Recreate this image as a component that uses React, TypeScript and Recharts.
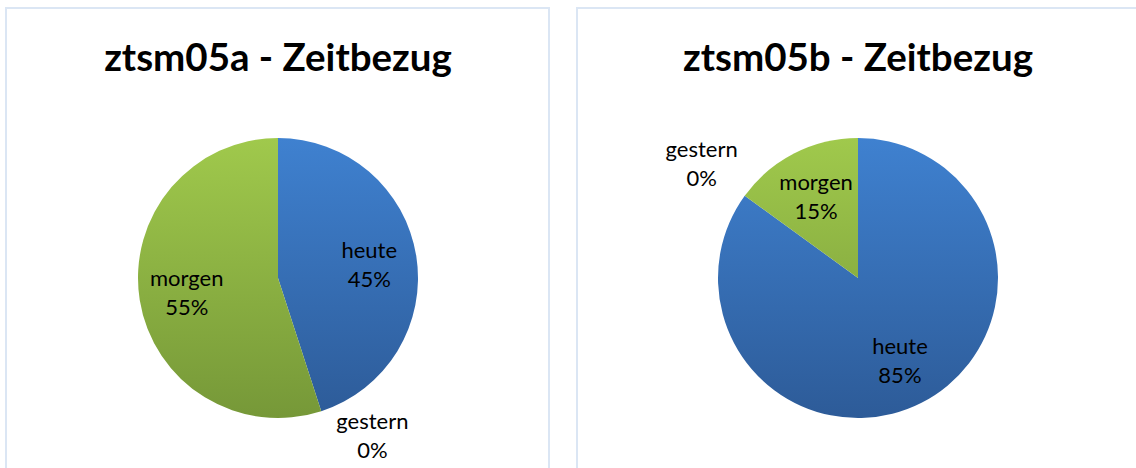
import { PieChart, Pie, Cell } from 'recharts';

const CATEGORIES = ['heute', 'gestern', 'morgen'];
const VALUES_A = [45, 0, 55];
const VALUES_B = [85, 0, 15];
const TITLES = ['ztsm05a - Zeitbezug', 'ztsm05b - Zeitbezug'];

const FONT = 'Lato, Calibri, "Open Sans", sans-serif';
const RADIUS = 140;
const CY = 278;

const RAD = Math.PI / 180;

// labels: inside for real slices, outside for the empty one
function renderLabel(props: any) {
  const { cx, cy, midAngle, outerRadius, name, percent, value } = props;
  const pct = `${Math.round(percent * 100)}%`;
  const cos = Math.cos(-midAngle * RAD);
  const sin = Math.sin(-midAngle * RAD);
  if (value > 0) {
    const r = outerRadius * 0.66;
    const x = cx + r * cos;
    const y = cy + r * sin;
    return (
      <text x={x} y={y} textAnchor="middle" fontFamily={FONT} fontSize={22} fill="#000">
        <tspan x={x} dy={-6}>{name}</tspan>
        <tspan x={x} dy={29}>{pct}</tspan>
      </text>
    );
  }
  const r = outerRadius + 10;
  const ax = cx + r * cos;
  const ay = cy + r * sin;
  const x = ax + (cos >= 0 ? 48 : -35);
  const y = ay + (sin >= 0 ? 8 : -33);
  return (
    <text x={x} y={y} textAnchor="middle" fontFamily={FONT} fontSize={22} fill="#000">
      <tspan x={x} dy={0}>{name}</tspan>
      <tspan x={x} dy={29}>{pct}</tspan>
    </text>
  );
}

function ZeitPie({ values, idx }: { values: number[]; idx: number }) {
  const data = CATEGORIES.map((name, i) => ({ name, value: values[i] }));
  const fills = [`url(#blue${idx})`, `url(#blue${idx})`, `url(#green${idx})`];
  return (
    <PieChart width={568} height={468} margin={{ top: 0, right: 0, bottom: 0, left: 0 }}>
      <defs>
        <linearGradient id={`blue${idx}`} x1="0" y1={CY - RADIUS} x2="0" y2={CY + RADIUS} gradientUnits="userSpaceOnUse">
          <stop offset="0%" stopColor="#3f81d0" />
          <stop offset="100%" stopColor="#2d5b98" />
        </linearGradient>
        <linearGradient id={`green${idx}`} x1="0" y1={CY - RADIUS} x2="0" y2={CY + RADIUS} gradientUnits="userSpaceOnUse">
          <stop offset="0%" stopColor="#a0c94c" />
          <stop offset="100%" stopColor="#769838" />
        </linearGradient>
      </defs>
      <Pie
        data={data}
        dataKey="value"
        nameKey="name"
        cx={idx === 0 ? 278 : 290}
        cy={CY}
        outerRadius={RADIUS}
        startAngle={90}
        endAngle={-270}
        stroke="none"
        label={renderLabel}
        labelLine={false}
        isAnimationActive={false}
      >
        {data.map((d, i) => (
          <Cell key={d.name} fill={fills[i]} />
        ))}
      </Pie>
    </PieChart>
  );
}

export default function App() {
  const panelBorder = '2px solid #dbe6f4';
  return (
    <div style={{ position: 'absolute', left: 0, top: 0, width: 1136, height: 468, overflow: 'hidden', background: '#fff' }}>
      <div style={{ position: 'absolute', left: 5, top: 7, width: 541, height: 480, border: panelBorder }} />
      <div style={{ position: 'absolute', left: 576, top: 7, width: 600, height: 480, border: panelBorder }} />
      {[0, 1].map((i) => (
        <div key={i} style={{ position: 'absolute', left: i * 568, top: 0, width: 568, height: 468 }}>
          <div
            style={{
              position: 'absolute',
              left: i === 0 ? 0 : 12,
              top: 33,
              width: 556,
              textAlign: 'center',
              fontFamily: FONT,
              fontWeight: 700,
              fontSize: 38.5,
              lineHeight: '46px',
              color: '#000',
            }}
          >
            {TITLES[i]}
          </div>
          <div style={{ position: 'absolute', left: 0, top: 0 }}>
            <ZeitPie values={i === 0 ? VALUES_A : VALUES_B} idx={i} />
          </div>
        </div>
      ))}
    </div>
  );
}
